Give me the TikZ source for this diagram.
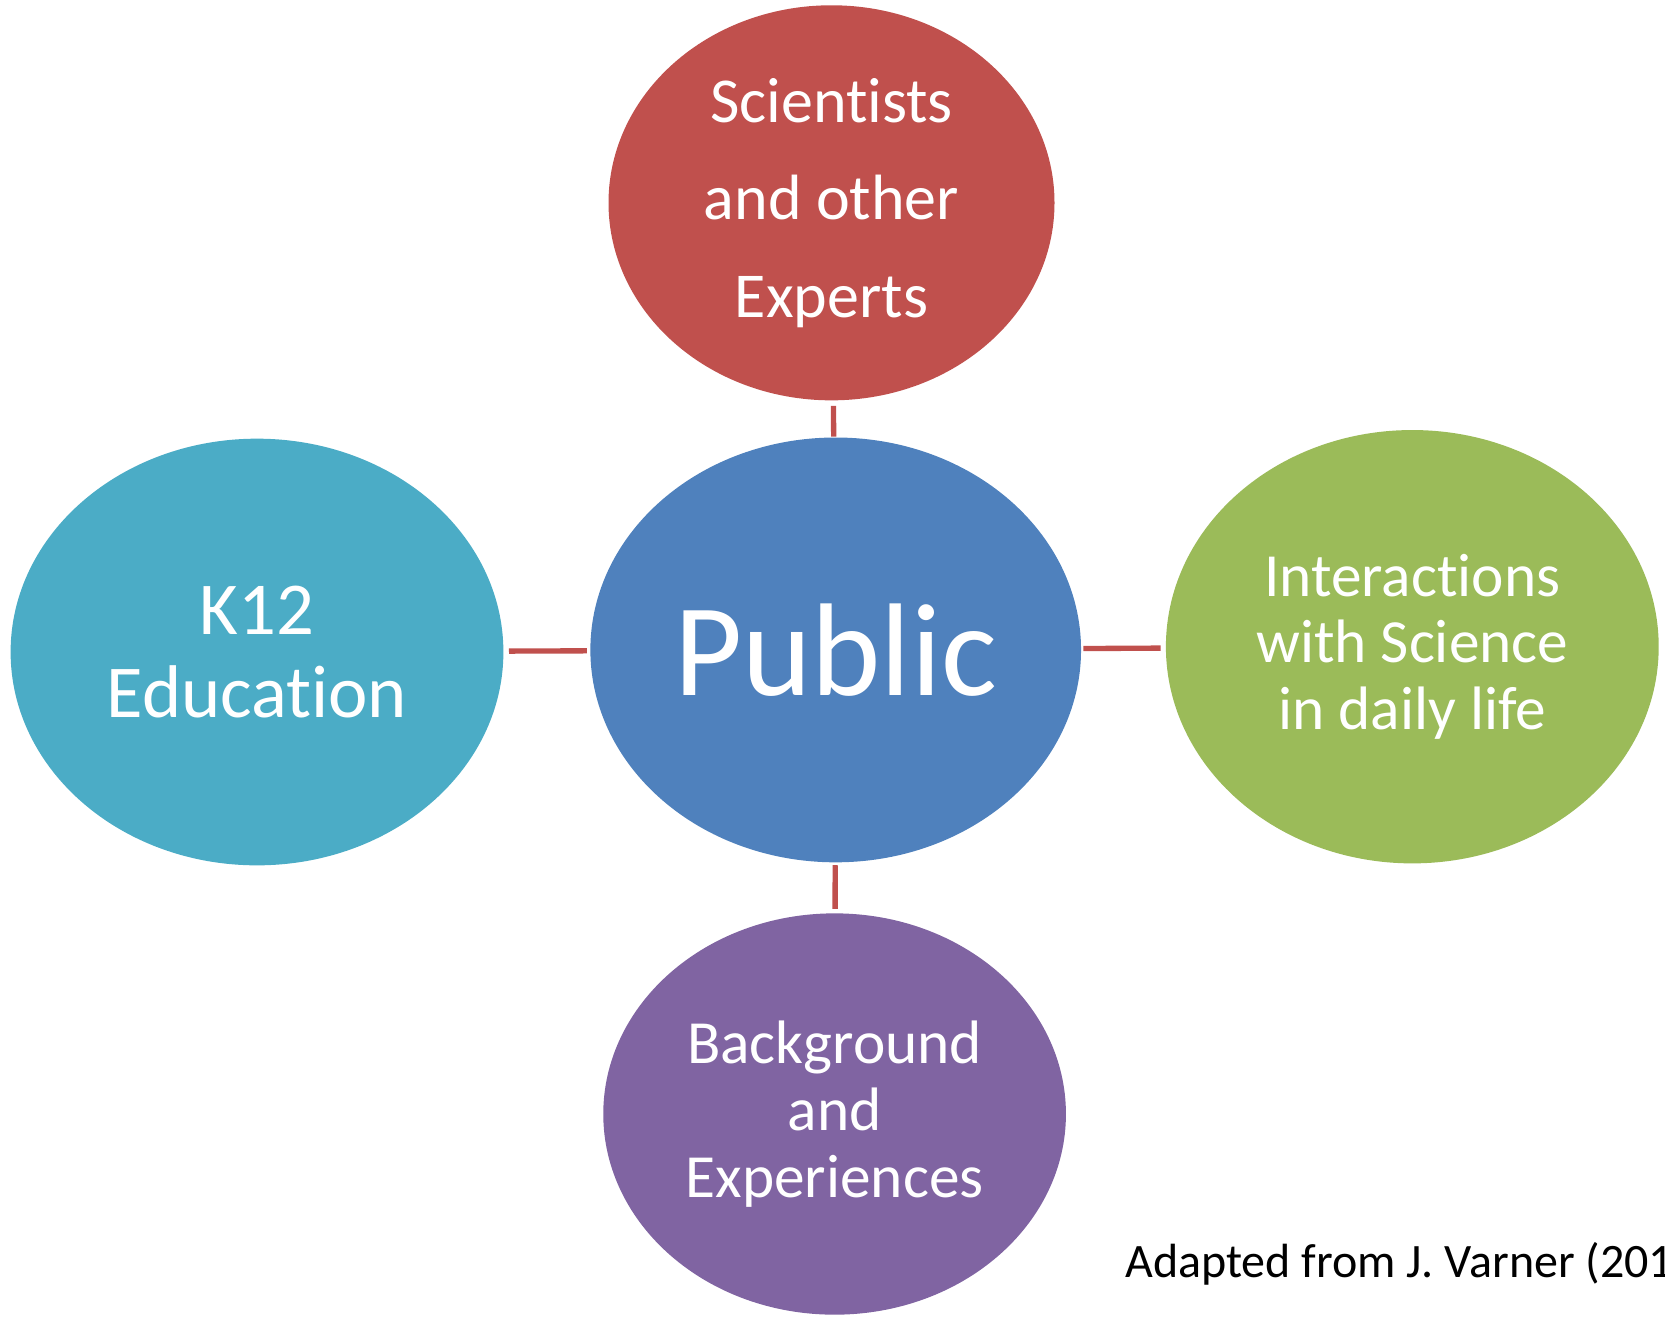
\documentclass[tikz,border=0pt]{standalone}
\usepackage{fontspec}
\setmainfont{Carlito}[Ligatures=NoCommon]
\usetikzlibrary{shapes.geometric, positioning}
\definecolor{expertred}{RGB}{192,80,77}
\definecolor{publicblue}{RGB}{79,129,189}
\definecolor{schoolteal}{RGB}{75,172,198}
\definecolor{dailygreen}{RGB}{155,187,89}
\definecolor{lifepurple}{RGB}{128,100,162}

\begin{document}
\begin{tikzpicture}[x=0.75pt, y=-0.75pt,
    bubble/.style={ellipse, inner sep=0pt, text=white, align=center},
    link/.style={draw=expertred, line width=4pt}]
    % Page
    \useasboundingbox (0,0) rectangle (1665,1318);

    % Centre
    \node[bubble, fill=publicblue, minimum width=368pt, minimum height=318.6pt,
          font=\fontsize{99}{104}\selectfont] (pub) at (835.7,649.9) {Public};

    % Outer bubbles
    \node[bubble, fill=expertred, minimum width=334.5pt, minimum height=296.3pt,
          font=\fontsize{48}{73}\selectfont] (sci) at (831.5,202.8)
          {Scientists\\and other\\Experts};
    \node[bubble, fill=schoolteal, minimum width=369.6pt, minimum height=320pt,
          font=\fontsize{56}{62}\selectfont] (k12) at (257,652)
          {K12\\Education};
    \node[bubble, fill=dailygreen, minimum width=369.6pt, minimum height=325pt,
          font=\fontsize{46}{50}\selectfont] (daily) at (1412.3,646.7)
          {Interactions\\with Science\\in daily life};
    \node[bubble, fill=lifepurple, minimum width=347pt, minimum height=301pt,
          font=\fontsize{46}{50}\selectfont] (exp) at (834.6,1114)
          {Background\\and\\Experiences};

    % Links
    \draw[link, shorten <=4pt, shorten >=0.5pt] (sci) -- (pub);
    \draw[link, shorten <=4pt, shorten >=2.5pt] (k12) -- (pub);
    \draw[link, shorten <=1.5pt, shorten >=3.7pt] (pub) -- (daily);
    \draw[link, shorten <=2pt, shorten >=3.2pt] (pub) -- (exp);

    % Source
    \node[anchor=base west, inner sep=0pt, font=\fontsize{36}{42}\selectfont] (src)
          at (1125,1277) {Adapted from J. Varner (201};
\end{tikzpicture}
\end{document}
